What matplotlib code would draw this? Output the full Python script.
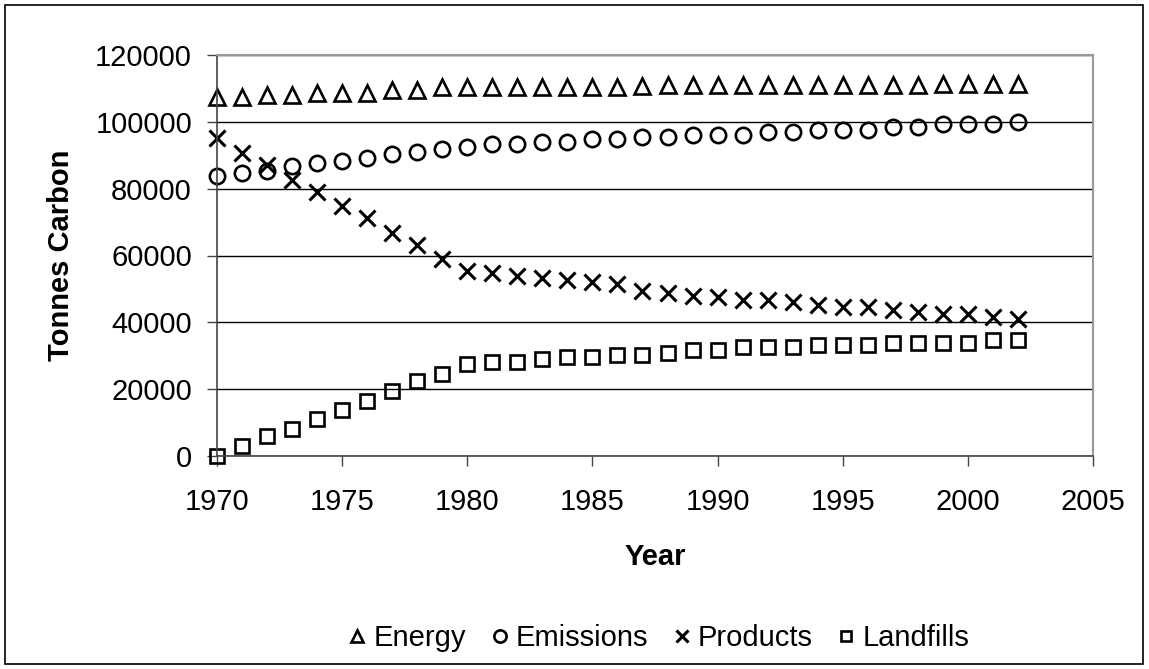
import matplotlib.pyplot as plt
from matplotlib.patches import Rectangle

plt.rcParams['font.family'] = ['Liberation Sans', 'DejaVu Sans']

years = list(range(1970, 2003))

energy = [107500, 107500, 108000, 108000, 108700, 108700, 108700, 109500, 109500,
          110300, 110300, 110300, 110300, 110400, 110400, 110400, 110500, 110700,
          110900, 111000, 111000, 111000, 111000, 111100, 111100, 111100, 111100,
          111100, 111100, 111200, 111200, 111200, 111200]
emissions = [83900, 84600, 85400, 86800, 87600, 88400, 89100, 90400, 91100, 91900,
             92600, 93300, 93300, 94100, 94100, 94800, 94800, 95400, 95400, 96100,
             96100, 96100, 96900, 96900, 97600, 97600, 97600, 98500, 98500, 99300,
             99300, 99300, 100000]
products = [95100, 90600, 87100, 82600, 79100, 74800, 71100, 66800, 63100, 59000,
            55400, 54700, 53900, 53200, 52700, 52000, 51400, 49500, 48700, 48000,
            47500, 46700, 46700, 46000, 45200, 44500, 44500, 43700, 43200, 42500,
            42500, 41700, 41000]
landfills = [0, 3000, 6100, 8100, 11000, 13800, 16600, 19600, 22400, 24500, 27500,
             28200, 28200, 28900, 29700, 29700, 30200, 30200, 30900, 31700, 31700,
             32500, 32500, 32500, 33200, 33200, 33200, 33900, 33900, 33900, 33900,
             34700, 34700]

fig = plt.figure(figsize=(11.49, 6.69), dpi=100)
ax = fig.add_axes([217 / 1149, 1 - 456 / 669, 876 / 1149, 401 / 669])

ax.plot(years, energy, linestyle='none', marker='^', ms=11, mfc='none', mec='black', mew=1.9, label='Energy', clip_on=False)
ax.plot(years, emissions, linestyle='none', marker='o', ms=11, mfc='none', mec='black', mew=1.9, label='Emissions', clip_on=False)
ax.plot(years, products, linestyle='none', marker='x', ms=11, mec='black', mew=2.2, label='Products', clip_on=False)
ax.plot(years, landfills, linestyle='none', marker='s', ms=9.5, mfc='none', mec='black', mew=1.9, label='Landfills', clip_on=False)

ax.set_xlim(1970, 2005)
ax.set_ylim(0, 120000)
ax.set_xticks(range(1970, 2006, 5))
ax.set_yticks(range(0, 120001, 20000))
ax.yaxis.grid(True, color='black', linewidth=1)
ax.set_axisbelow(True)

for side in ['top', 'right']:
    ax.spines[side].set_color('#999999')
    ax.spines[side].set_linewidth(1.5)
for side in ['left', 'bottom']:
    ax.spines[side].set_color('#444444')
    ax.spines[side].set_linewidth(1.2)

ax.tick_params(direction='out', length=7, width=1, color='#444444', labelsize=21)
ax.tick_params(axis='y', pad=11)
ax.tick_params(axis='x', pad=16)

ax.set_xlabel('Year', fontsize=21, fontweight='bold')
ax.set_ylabel('Tonnes Carbon', fontsize=21, fontweight='bold')
ax.xaxis.set_label_coords(0.5, -0.217)
ax.yaxis.set_label_coords(-0.162, 0.5)

leg = ax.legend(loc='center', bbox_to_anchor=(0.502, -0.454), ncol=4, frameon=False,
                fontsize=21, markerscale=0.8, handletextpad=0.1, columnspacing=0.7,
                handlelength=0.9)

fig.patches.append(Rectangle((5 / 1149, 5 / 669), 1138 / 1149, 659 / 669,
                             transform=fig.transFigure, fill=False, edgecolor='black', linewidth=1.2))

fig.savefig('out.png', dpi=100)
